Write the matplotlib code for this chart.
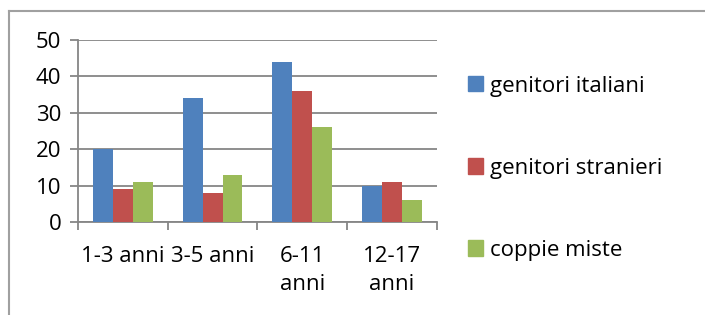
import numpy as np
import matplotlib.pyplot as plt
from matplotlib.lines import Line2D

# dati
categorie = ['1-3 anni', '3-5 anni', '6-11\nanni', '12-17\nanni']
serie = ['genitori italiani', 'genitori stranieri', 'coppie miste']
italiani = [20, 34, 44, 10]
stranieri = [9, 8, 36, 11]
miste = [11, 13, 26, 6]
colori = ['#4F81BD', '#C0504D', '#9BBB59']

plt.rcParams['font.family'] = ['Open Sans', 'DejaVu Sans']
fs = 16

fig = plt.figure(figsize=(7.05, 3.15), dpi=100)
ax = fig.add_axes([0.1106, 0.295, 0.509, 0.578])

x = np.arange(len(categorie))
w = 2 / 9  # gap width 150%
for i, (vals, nome) in enumerate(zip([italiani, stranieri, miste], serie)):
    ax.bar(x + (i - 1) * w, vals, width=w, color=colori[i], label=nome, zorder=3)

ax.set_xlim(-0.5, len(categorie) - 0.5)
ax.set_ylim(0, 50)
ax.set_yticks(range(0, 51, 10))
ax.yaxis.grid(True, color='#868686', linewidth=1.3, zorder=0)

for s in ['top', 'right']:
    ax.spines[s].set_visible(False)
for s in ['left', 'bottom']:
    ax.spines[s].set_color('#868686')
    ax.spines[s].set_linewidth(1.3)

ax.tick_params(axis='y', length=6, width=1.3, color='#868686', labelsize=fs, pad=6)
# tick sui confini delle categorie
ax.set_xticks(np.arange(-0.5, len(categorie), 1.0))
ax.set_xticklabels([])
ax.set_xticks(x, minor=True)
ax.set_xticklabels(categorie, minor=True, fontsize=fs, linespacing=1.45)
ax.tick_params(axis='x', which='major', length=6, width=1.3, color='#868686')
ax.tick_params(axis='x', which='minor', length=0, pad=17)

handles = [plt.Rectangle((0, 0), 1, 1, color=c) for c in colori]
fig.legend(handles, serie, loc='upper left', bbox_to_anchor=(0.664, 0.76),
           frameon=False, fontsize=fs, handlelength=0.68, handleheight=0.68,
           handletextpad=0.32, labelspacing=2.75, borderaxespad=0, borderpad=0)

# cornice del grafico (solo bordo superiore e sinistro visibili)
fig.add_artist(Line2D([0.0128, 1.0], [0.965, 0.965], color='#A0A0A0', lw=1.5,
                      transform=fig.transFigure))
fig.add_artist(Line2D([0.0128, 0.0128], [0.0, 0.965], color='#A0A0A0', lw=1.5,
                      transform=fig.transFigure))

fig.savefig('out.png', dpi=100)
